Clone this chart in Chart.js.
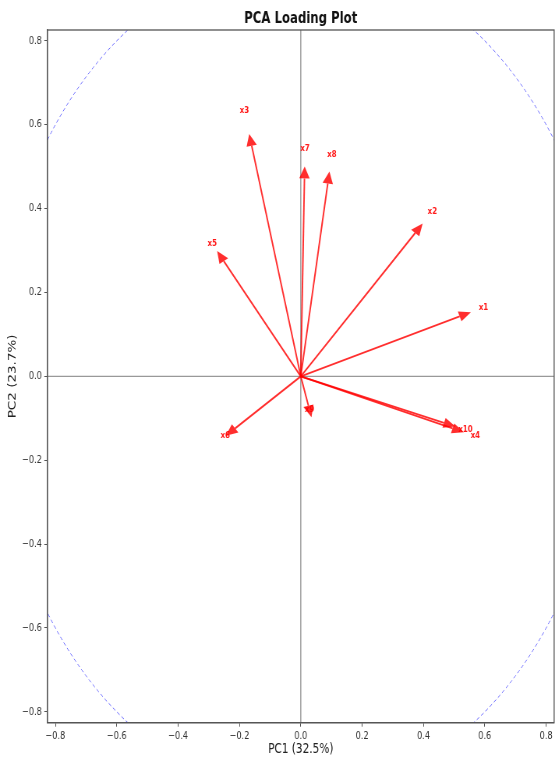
<!DOCTYPE html>
<html>
<head>
<meta charset="utf-8">
<script src="https://cdn.jsdelivr.net/npm/chart.js@4.4.1/dist/chart.umd.min.js"></script>
<style>
  html, body { margin: 0; padding: 0; background: #fff; overflow: hidden; }
  #wrap { width: 712px; height: 761px; transform: scaleX(0.7795); transform-origin: 0 0; }
</style>
</head>
<body>
<div id="wrap"><canvas id="c" width="712" height="761" style="width:712px;height:761px"></canvas></div>
<script>
// Variable loadings on the first two principal components
const variables = ['x1', 'x2', 'x3', 'x4', 'x5', 'x6', 'x7', 'x8', 'x9', 'x10'];
const pc1 = [0.518, 0.373, -0.160, 0.495, -0.251, -0.214, 0.012, 0.088, 0.025, 0.467];
const pc2 = [0.143, 0.342, 0.550, -0.124, 0.275, -0.124, 0.472, 0.460, -0.070, -0.111];
const tickValues = [-0.8, -0.6, -0.4, -0.2, 0.0, 0.2, 0.4, 0.6, 0.8];
const axisLimit = 0.826;
const labelScale = 1.15;
const xTitle = 'PC1 (32.5%)';
const yTitle = 'PC2 (23.7%)';
const chartTitle = 'PCA Loading Plot';

const SX = 0.7795;           // horizontal squeeze of the page wrapper
const RED = 'rgba(255,0,0,0.82)';
const FONT = '"DejaVu Sans", sans-serif';

const fmt = v => (v < -1e-9 ? '\u2212' : '') + Math.abs(v).toFixed(1);

const datasets = variables.map((name, i) => ({
  label: name,
  data: [{x: 0, y: 0}, {x: pc1[i], y: pc2[i]}],
  showLine: true,
  borderColor: RED,
  borderWidth: 1.9,
  pointRadius: 0,
  pointHoverRadius: 0
}));

const decor = {
  id: 'decor',
  beforeDraw(chart) {
    const {ctx, width, height, chartArea: a, scales: {x, y}} = chart;
    ctx.save();
    ctx.fillStyle = '#fff';
    ctx.fillRect(0, 0, width, height);
    ctx.beginPath();
    ctx.rect(a.left, a.top, a.right - a.left, a.bottom - a.top);
    ctx.clip();
    // reference lines through the origin
    ctx.strokeStyle = 'rgba(128,128,128,0.8)';
    ctx.lineWidth = 1.4;
    ctx.beginPath();
    ctx.moveTo(a.left, y.getPixelForValue(0));
    ctx.lineTo(a.right, y.getPixelForValue(0));
    ctx.moveTo(x.getPixelForValue(0), a.top);
    ctx.lineTo(x.getPixelForValue(0), a.bottom);
    ctx.stroke();
    // unit correlation circle
    const cx = x.getPixelForValue(0), cy = y.getPixelForValue(0);
    const rx = x.getPixelForValue(1) - cx, ry = cy - y.getPixelForValue(1);
    ctx.strokeStyle = 'rgba(60,60,255,0.75)';
    ctx.lineWidth = 1.0;
    ctx.setLineDash([4, 3]);
    ctx.beginPath();
    ctx.ellipse(cx, cy, rx, ry, 0, 0, Math.PI * 2);
    ctx.stroke();
    ctx.restore();
  },
  afterDraw(chart) {
    const {ctx, chartArea: a, scales: {x, y}} = chart;
    ctx.save();
    const ox = x.getPixelForValue(0), oy = y.getPixelForValue(0);
    // arrow heads, sized in on-screen pixels
    ctx.fillStyle = RED;
    variables.forEach((name, i) => {
      const bx = x.getPixelForValue(pc1[i]), by = y.getPixelForValue(pc2[i]);
      const dx = (bx - ox) * SX, dy = by - oy;
      const len = Math.hypot(dx, dy);
      const ux = dx / len, uy = dy / len;
      const nx = -uy, ny = ux;
      const L = 12, W = 5.2;
      ctx.beginPath();
      ctx.moveTo(bx + (L * ux) / SX, by + L * uy);
      ctx.lineTo(bx + (W * nx) / SX, by + W * ny);
      ctx.lineTo(bx - (W * nx) / SX, by - W * ny);
      ctx.closePath();
      ctx.fill();
    });
    // variable names
    ctx.fillStyle = 'rgba(255,0,0,0.9)';
    ctx.font = 'bold 9px ' + FONT;
    ctx.textAlign = 'center';
    ctx.textBaseline = 'middle';
    variables.forEach((name, i) => {
      ctx.fillText(name, x.getPixelForValue(pc1[i] * labelScale), y.getPixelForValue(pc2[i] * labelScale));
    });
    // frame
    ctx.strokeStyle = '#555';
    ctx.lineWidth = 1.3;
    ctx.strokeRect(a.left, a.top, a.right - a.left, a.bottom - a.top);
    // title centred over the axes
    ctx.fillStyle = '#111';
    ctx.font = 'bold 15px ' + FONT;
    ctx.textAlign = 'center';
    ctx.textBaseline = 'middle';
    ctx.fillText(chartTitle, (a.left + a.right) / 2, 19);
    ctx.restore();
  }
};

const axisCommon = (title, titlePad) => ({
  type: 'linear',
  min: -axisLimit,
  max: axisLimit,
  afterBuildTicks: s => { s.ticks = tickValues.map(v => ({value: v})); },
  ticks: {
    autoSkip: false,
    maxRotation: 0,
    padding: 3,
    color: '#333',
    font: {family: FONT, size: 10.5},
    callback: v => fmt(v)
  },
  grid: {
    drawOnChartArea: false,
    drawTicks: true,
    tickLength: 4,
    color: '#555',
    tickColor: '#555'
  },
  border: {display: true, color: '#555', width: 1.3},
  title: {
    display: true,
    text: title,
    color: '#222',
    font: {family: FONT, size: 13.5},
    padding: titlePad
  }
});

const xAxis = axisCommon(xTitle, {top: 0, bottom: 3});
xAxis.afterFit = s => { s.height = 38.3; };
const yAxis = axisCommon(yTitle, {top: 8.6, bottom: 0});
yAxis.afterFit = s => { s.width = 60.8; };

new Chart(document.getElementById('c'), {
  type: 'scatter',
  data: {datasets},
  options: {
    responsive: false,
    animation: false,
    layout: {padding: {top: 30, right: 0, left: 0, bottom: 0}},
    plugins: {legend: {display: false}, tooltip: {enabled: false}, title: {display: false}},
    scales: {x: xAxis, y: yAxis}
  },
  plugins: [decor]
});
</script>
</body>
</html>
